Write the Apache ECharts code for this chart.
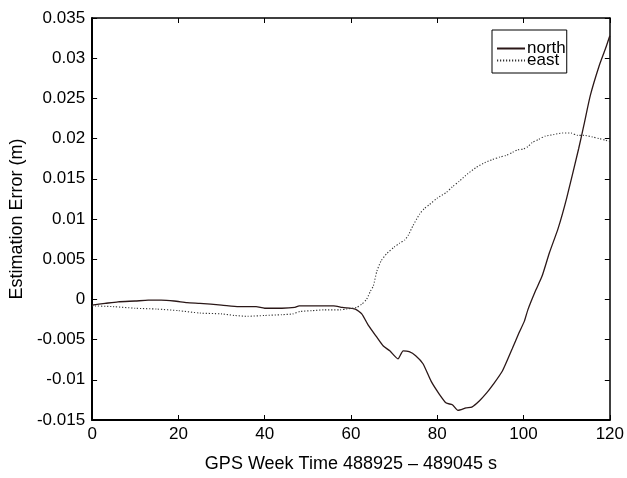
<!DOCTYPE html>
<html>
<head>
<meta charset="utf-8">
<script src="https://cdn.jsdelivr.net/npm/echarts@6/dist/echarts.min.js"></script>
<style>html,body{margin:0;padding:0;background:#fff}#c{width:627px;height:478px}</style>
</head>
<body>
<div id="c"></div>
<script>
const seriesNames = ['north', 'east'];
const northX = [0,3,6,10,13,16,19,22,25,30,34,38,40,44,47,48,53,56,58,61,62.5,64,66,67.5,69,70.9,72.1,73.5,75,76.7,78.6,80.5,82.1,83.5,84.8,86.7,88,89.8,91.5,92.8,95.1,97.4,99,100.2,101,102.8,104.3,106,108,110,112.8,114,115.5,117.5,119,120];
const northY = [-0.0007,-0.0005,-0.0003,-0.0002,-0.0001,-0.0001,-0.0002,-0.0004,-0.0005,-0.0007,-0.0009,-0.0009,-0.0011,-0.0011,-0.0010,-0.0008,-0.0008,-0.0008,-0.0010,-0.0012,-0.0018,-0.0032,-0.0047,-0.0058,-0.0064,-0.0074,-0.0064,-0.0065,-0.0070,-0.0080,-0.0102,-0.0118,-0.0129,-0.0131,-0.0138,-0.0135,-0.0134,-0.0126,-0.0116,-0.0107,-0.0089,-0.0061,-0.0041,-0.0027,-0.0013,0.0011,0.0029,0.0058,0.0088,0.0126,0.0188,0.0217,0.0254,0.0290,0.0312,0.0328];
const eastX = [0,5,10,15,20,25,30,33,36,40,44,46.5,48.2,51,53.6,57.5,59,61.3,62.5,63.6,64.5,65.2,66,67,68.3,70,71.3,72.5,73.3,74.4,75.9,77,78.2,80,82.1,83.5,85.1,87,89,91,92.8,94.5,95.9,97.5,98.6,100,101,102,103.5,105,107,109,111,112.5,114,116,117.5,119,120];
const eastY = [-0.0008,-0.0009,-0.0011,-0.0012,-0.0014,-0.0017,-0.0018,-0.0020,-0.0021,-0.0020,-0.0019,-0.0018,-0.0015,-0.0014,-0.0013,-0.0013,-0.0012,-0.0010,-0.0006,0.0000,0.0010,0.0017,0.0035,0.0048,0.0057,0.0065,0.0070,0.0074,0.0080,0.0092,0.0106,0.0113,0.0118,0.0126,0.0133,0.0140,0.0147,0.0156,0.0164,0.0170,0.0174,0.0177,0.0179,0.0183,0.0186,0.0187,0.0190,0.0195,0.0199,0.0203,0.0205,0.0207,0.0207,0.0204,0.0204,0.0202,0.0200,0.0198,0.0196];
const xTicks = [0,20,40,60,80,100,120];
const yTicks = [-0.015,-0.01,-0.005,0,0.005,0.01,0.015,0.02,0.025,0.03,0.035];

const FONT = '"Liberation Sans", Arial, sans-serif';
const zip = (xs, ys) => xs.map((x, i) => [x, ys[i]]);
const chart = echarts.init(document.getElementById('c'), null, {renderer: 'canvas'});
const frameAxis = (w) => ({
  axisLine: {show: true, onZero: false, lineStyle: {color: '#000', width: w}},
  axisTick: {show: true, inside: true, length: 5, lineStyle: {color: '#000', width: 1}},
  axisLabel: {show: false}, splitLine: {show: false}
});
chart.setOption({
  animation: false,
  backgroundColor: '#fff',
  grid: {left: 91, right: 16, top: 18, bottom: 52, containLabel: false},
  legend: {
    data: seriesNames,
    orient: 'vertical', left: 492, top: 30,
    itemGap: -5, itemWidth: 28, itemHeight: 13,
    padding: [10, 1, 4, 4],
    borderColor: '#000', borderWidth: 1,
    backgroundColor: '#fff',
    itemStyle: {opacity: 0},
    textStyle: {fontFamily: FONT, fontSize: 17, lineHeight: 13, color: '#000', padding: [0, 0, 0, -3]}
  },
  xAxis: [{
    type: 'value', min: xTicks[0], max: xTicks[xTicks.length - 1], interval: 20,
    name: 'GPS Week Time 488925 \u2013 489045 s', nameLocation: 'middle', nameGap: 35,
    nameTextStyle: {fontFamily: FONT, fontSize: 18, color: '#000'},
    axisLine: {show: true, onZero: false, lineStyle: {color: '#000', width: 2}},
    axisTick: {show: true, inside: true, length: 5, lineStyle: {color: '#000', width: 1}},
    axisLabel: {fontFamily: FONT, fontSize: 17, color: '#000', margin: 6},
    splitLine: {show: false}
  }, Object.assign({type: 'value', position: 'top', min: 0, max: 120, interval: 20}, frameAxis(1.5))],
  yAxis: [{
    type: 'value', min: yTicks[0], max: yTicks[yTicks.length - 1], interval: 0.005,
    name: 'Estimation Error (m)', nameLocation: 'middle', nameGap: 64, nameRotate: 90,
    nameTextStyle: {fontFamily: FONT, fontSize: 18, color: '#000'},
    axisLine: {show: true, onZero: false, lineStyle: {color: '#000', width: 2}},
    axisTick: {show: true, inside: true, length: 5, lineStyle: {color: '#000', width: 1}},
    axisLabel: {fontFamily: FONT, fontSize: 17, color: '#000', margin: 7,
      formatter: v => String(+v.toFixed(3))},
    splitLine: {show: false}
  }, Object.assign({type: 'value', position: 'right', min: -0.015, max: 0.035, interval: 0.005}, frameAxis(1.5))],
  series: [{
    name: seriesNames[0], type: 'line', data: zip(northX, northY), symbol: 'none', smooth: 0.2,
    lineStyle: {color: '#2a1717', width: 1.3, type: 'solid'}, itemStyle: {color: '#2a1717'}
  }, {
    name: seriesNames[1], type: 'line', data: zip(eastX, eastY), symbol: 'none', smooth: 0.2,
    lineStyle: {color: '#333', width: 1.1, type: [1.2, 1.8]}, itemStyle: {color: '#333'}
  }]
});
</script>
</body>
</html>
